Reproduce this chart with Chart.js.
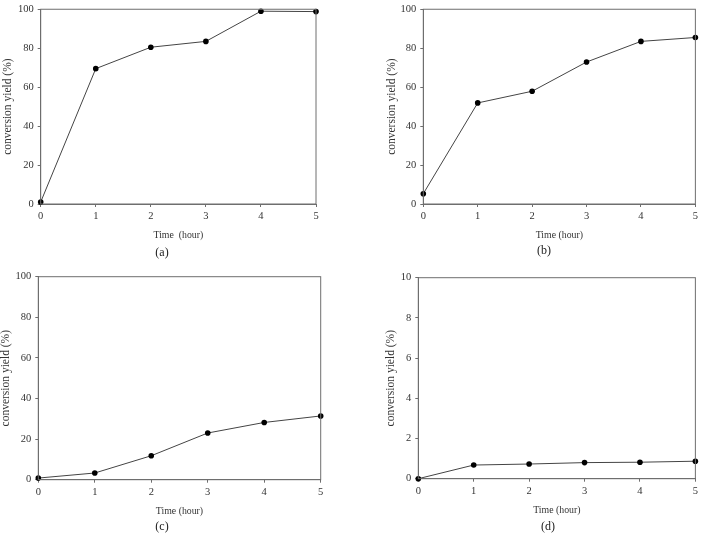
<!DOCTYPE html>
<html>
<head>
<meta charset="utf-8">
<script src="https://cdn.jsdelivr.net/npm/chart.js@4"></script>
<style>
  html, body { margin: 0; padding: 0; background: #fff; }
  #wrap { position: relative; width: 702px; height: 533px; overflow: hidden; }
  canvas { position: absolute; left: 0; top: 0; }
  .lbl { position: absolute; font-family: "Liberation Serif", "DejaVu Serif", serif; font-size: 12px; color: #222; transform: translate(-50%, -50%); white-space: nowrap; }
</style>
</head>
<body>
<div id="wrap">
  <canvas id="ca" width="702" height="533"></canvas>
  <canvas id="cb" width="702" height="533"></canvas>
  <canvas id="cc" width="702" height="533"></canvas>
  <canvas id="cd" width="702" height="533"></canvas>
  <div class="lbl" style="left:162px;top:252px">(a)</div>
  <div class="lbl" style="left:544px;top:250px">(b)</div>
  <div class="lbl" style="left:162px;top:526px">(c)</div>
  <div class="lbl" style="left:548px;top:526px">(d)</div>
</div>
<script>
// ---- data ----
const hours = [0, 1, 2, 3, 4, 5];
const yieldA = [1.0, 69.5, 80.5, 83.5, 99.0, 98.8];
const yieldB = [5.3, 51.9, 57.9, 72.9, 83.5, 85.5];
const yieldC = [0.8, 3.3, 11.8, 23.0, 28.2, 31.4];
const yieldD = [0.0, 0.68, 0.73, 0.80, 0.82, 0.87];
const yTitle = "conversion yield (%)";
const xTitleA = "Time  (hour)";
const xTitle = "Time (hour)";

const W = 702, H = 533;
const FONT = "'Liberation Serif', 'DejaVu Serif', serif";
const AXIS = "#6e6e6e";
const TEXT = "#333";
const YT_SIZE = 11.5;
const XT_SIZE = 9.8;

const boxPlugin = {
  id: 'box',
  afterDraw(chart) {
    const a = chart.chartArea, ctx = chart.ctx;
    ctx.save();
    ctx.strokeStyle = AXIS;
    ctx.lineWidth = 1;
    ctx.strokeRect(a.left, a.top, a.right - a.left, a.bottom - a.top);
    ctx.restore();
  }
};

function make(id, values, yMax, yStep, g, xt) {
  const padL = Math.max(0, g.yTitleX - YT_SIZE / 2);
  const xBottom = g.xTitleY + XT_SIZE / 2;
  new Chart(document.getElementById(id), {
    type: 'line',
    data: {
      datasets: [{
        data: hours.map((h, i) => ({ x: h, y: values[i] })),
        borderColor: '#444',
        borderWidth: 1,
        pointRadius: 2.8,
        pointBackgroundColor: '#000',
        pointBorderColor: '#000',
        pointBorderWidth: 0,
        tension: 0,
        clip: false
      }]
    },
    options: {
      responsive: false,
      animation: false,
      events: [],
      layout: { padding: { left: padL, right: W - g.R, top: g.T, bottom: H - xBottom } },
      plugins: { legend: { display: false }, tooltip: { enabled: false } },
      scales: {
        x: {
          type: 'linear', min: 0, max: 5,
          ticks: { stepSize: 1, color: TEXT, padding: 4, font: { family: FONT, size: 10.5, lineHeight: 1 } },
          grid: { drawOnChartArea: false, drawTicks: true, tickLength: 3, color: AXIS },
          border: { color: AXIS },
          title: { display: true, text: xt, color: TEXT, padding: 0, font: { family: FONT, size: XT_SIZE, lineHeight: 1 } },
          afterFit(s) { s.height = xBottom - g.B; }
        },
        y: {
          min: 0, max: yMax,
          ticks: { stepSize: yStep, color: TEXT, padding: 4, font: { family: FONT, size: 10.5, lineHeight: 1 } },
          grid: { drawOnChartArea: false, drawTicks: true, tickLength: 3, color: AXIS },
          border: { color: AXIS },
          title: { display: true, text: yTitle, color: TEXT, padding: 0, font: { family: FONT, size: YT_SIZE, lineHeight: 1 } },
          afterFit(s) { s.width = g.L - padL; }
        }
      }
    },
    plugins: [boxPlugin]
  });
}

make('ca', yieldA, 100, 20, { L: 40.7, R: 316, T: 6, B: 204, yTitleX: 7.5, xTitleY: 235 }, xTitleA);
make('cb', yieldB, 100, 20, { L: 423.3, R: 698.7, T: 6, B: 204, yTitleX: 392, xTitleY: 235 }, xTitle);
make('cc', yieldC, 100, 20, { L: 38.3, R: 320.7, T: 276.7, B: 479.7, yTitleX: 5.5, xTitleY: 511.7 }, xTitle);
make('cd', yieldD, 10, 2, { L: 418.3, R: 698.7, T: 277.7, B: 478.7, yTitleX: 391, xTitleY: 510 }, xTitle);
</script>
</body>
</html>
